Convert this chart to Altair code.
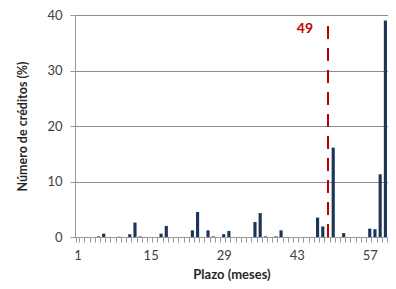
import altair as alt
import pandas as pd

plazo = list(range(1, 61))
pct = [0, 0, 0, 0, 0.1, 0.6, 0, 0, 0.05, 0,
       0.5, 2.6, 0.1, 0, 0, 0, 0.6, 2.0, 0, 0,
       0, 0, 1.2, 4.5, 0, 1.2, 0.1, 0, 0.5, 1.1,
       0, 0, 0, 0, 2.7, 4.3, 0.1, 0, 0.1, 1.2,
       0, 0, 0, 0, 0, 0, 3.5, 1.9, 0, 16.1,
       0, 0.7, 0, 0, 0, 0, 1.5, 1.4, 11.3, 39.0]
label_vals = [1, 15, 29, 43, 57]
marker_x = [49]
marker_label = ["49"]

df = pd.DataFrame({"plazo": plazo, "pct": pct})
mk = pd.DataFrame({"plazo": marker_x, "y0": [0], "y1": [39.5], "ty": [37.5], "txt": marker_label})

FONT = "Lato"
xscale = alt.Scale(domain=plazo, paddingInner=0.4, paddingOuter=0.2)
yscale = alt.Scale(domain=[0, 40])

label_expr = "indexof([" + ",".join(str(v) for v in label_vals) + "], datum.value) >= 0 ? datum.label : ''"

bars = alt.Chart(df).mark_bar(color="#1B3459").encode(
    x=alt.X("plazo:O", scale=xscale, sort=plazo,
            axis=alt.Axis(title="Plazo (meses)", labelExpr=label_expr, labelAngle=0,
                          tickBand="extent", tickSize=5, tickColor="#999999",
                          domainColor="#999999", labelFontSize=13, labelColor="#404040",
                          labelFont=FONT, labelPadding=7, titleFont=FONT, titleFontSize=13,
                          titleFontWeight="bold", titleColor="#262626", titlePadding=6,
                          grid=False, labelOverlap=False)),
    y=alt.Y("pct:Q", scale=yscale,
            axis=alt.Axis(title="Número de créditos (%)", values=[0, 10, 20, 30, 40],
                          tickSize=5, tickColor="#999999", domainColor="#999999",
                          gridColor="#8c8c8c", labelFontSize=13, labelColor="#404040",
                          labelFont=FONT, labelPadding=8, titleFont=FONT, titleFontSize=12.5,
                          titleFontWeight="bold", titleColor="#262626", titlePadding=17)),
)

rule = alt.Chart(mk).mark_rule(color="#C00000", strokeWidth=2, strokeDash=[13, 9]).encode(
    x=alt.X("plazo:O", scale=xscale, sort=plazo),
    y=alt.Y("y0:Q", scale=yscale),
    y2="y1:Q",
)

txt = alt.Chart(mk).mark_text(color="#C00000", fontWeight="bold", fontSize=14, font=FONT,
                              align="right", baseline="middle", dx=-15).encode(
    x=alt.X("plazo:O", scale=xscale, sort=plazo),
    y=alt.Y("ty:Q", scale=yscale),
    text="txt:N",
)

chart = alt.layer(bars, rule, txt).properties(
    width=313, height=222,
    autosize=alt.AutoSizeParams(type="none"),
    padding={"left": 67, "top": 7, "right": 0, "bottom": 44},
).configure_view(stroke=None)

chart.save("out.html", embed_options={"renderer": "svg", "actions": False})
